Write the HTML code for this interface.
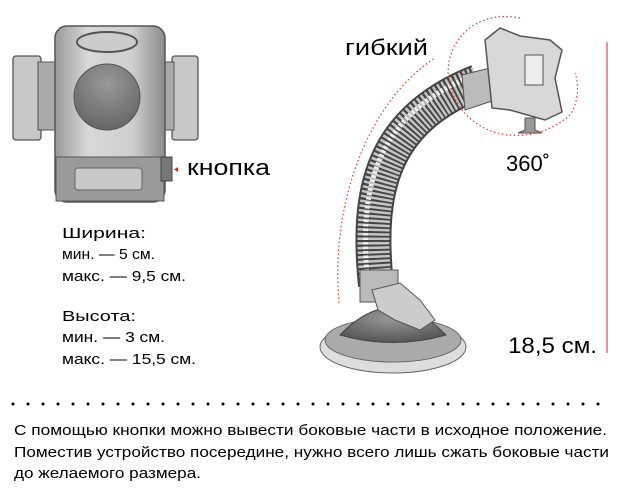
<!DOCTYPE html>
<html><head><meta charset="utf-8"><style>
body{margin:0;background:#fff;width:624px;height:495px;overflow:hidden;font-family:"Liberation Sans",sans-serif}
svg{position:absolute;left:0;top:0}
</style></head><body>
<svg width="624" height="495" viewBox="0 0 624 495" xmlns="http://www.w3.org/2000/svg">
<defs>
<linearGradient id="g1" x1="0" x2="1"><stop offset="0" stop-color="#9a9a9a"/><stop offset=".3" stop-color="#d8d8d8"/><stop offset=".7" stop-color="#cfcfcf"/><stop offset="1" stop-color="#8a8a8a"/></linearGradient>
<radialGradient id="dome" cx=".5" cy=".3" r=".7"><stop offset="0" stop-color="#9a9a9a"/><stop offset="1" stop-color="#555"/></radialGradient>
<radialGradient id="circ" cx=".5" cy=".3" r=".7"><stop offset="0" stop-color="#999"/><stop offset="1" stop-color="#666"/></radialGradient>
</defs>
<!-- left holder -->
<rect x="13" y="56" width="28" height="84" rx="3" fill="#c8c8c8" stroke="#555" stroke-width="1.3"/>
<rect x="38" y="62" width="20" height="68" fill="#aaa" stroke="#555"/>
<rect x="172" y="56" width="26" height="84" rx="3" fill="#c8c8c8" stroke="#555" stroke-width="1.3"/>
<rect x="156" y="62" width="18" height="68" fill="#aaa" stroke="#555"/>
<rect x="55" y="26" width="110" height="176" rx="12" fill="url(#g1)" stroke="#555" stroke-width="1.5"/>
<ellipse cx="107" cy="42" rx="30" ry="10" fill="#ccc" stroke="#555" stroke-width="2"/>
<circle cx="107" cy="97" r="33" fill="url(#circ)" stroke="#555"/>
<rect x="56" y="157" width="108" height="44" fill="#9a9a9a" stroke="#555"/>
<rect x="75" y="168" width="67" height="22" rx="3" fill="#c8c8c8" stroke="#666"/>
<rect x="161" y="157" width="11" height="24" fill="#777" stroke="#444"/>
<polygon points="178,167 174,169.5 178,172" fill="#d22"/>
<!-- gooseneck -->
<path d="M376,285 C366,190 382,120 478,82" fill="none" stroke="#444" stroke-width="36"/>
<path d="M376,285 C366,190 382,120 478,82" fill="none" stroke="#c4c4c4" stroke-width="32" stroke-dasharray="2.5 2"/>
<path d="M368,285 C358,190 374,116 472,76" fill="none" stroke="#eee" stroke-width="5" stroke-dasharray="2.5 2"/>
<rect x="360" y="270" width="38" height="32" fill="#bbb" stroke="#555"/>
<!-- head -->
<path d="M462,75 L490,68 L495,100 L465,110 Z" fill="#bbb" stroke="#555"/>
<path d="M485,40 L500,28 L520,36 L550,40 L562,50 L555,78 L562,112 L545,120 L510,110 L492,108 Z" fill="#d8d8d8" stroke="#555" stroke-width="1.5"/>
<rect x="525" y="55" width="18" height="30" fill="#eee" stroke="#555"/>
<path d="M525,118 L535,118 L535,130 L542,133 L518,133 L525,130Z" fill="#999" stroke="#555"/>
<!-- base -->
<ellipse cx="393" cy="347" rx="73" ry="26" fill="#ddd" stroke="#666"/>
<ellipse cx="393" cy="340" rx="68" ry="22" fill="#aaa" stroke="#666"/>
<path d="M340,335 Q393,280 446,335 Q393,350 340,335Z" fill="url(#dome)" stroke="#444"/>
<path d="M372,290 L400,283 L420,300 L435,320 L420,330 L395,320 L378,310Z" fill="#ccc" stroke="#555"/>
<!-- red dotted arcs -->
<g fill="none" stroke="#e33" stroke-width="1.2" stroke-dasharray="1.5 2.5">
<path d="M339,303 C330,200 370,100 435,58"/>
<path d="M520,18 C470,8 440,50 450,85 C465,140 530,150 570,115 C580,100 578,80 575,73"/>
</g>
<line x1="607" y1="42" x2="607" y2="353" stroke="#e55" stroke-width="1.3"/>
<g font-size="22" fill="#000" lengthAdjust="spacingAndGlyphs">
<text x="187" y="175" textLength="83" lengthAdjust="spacingAndGlyphs">кнопка</text>
<text x="345" y="55" textLength="83" lengthAdjust="spacingAndGlyphs">гибкий</text>
<text x="506" y="171">360˚</text>
<text x="508" y="353" textLength="89" lengthAdjust="spacingAndGlyphs">18,5 см.</text>
</g>
<g font-size="15" fill="#000">
<text x="62" y="238" textLength="84" lengthAdjust="spacingAndGlyphs">Ширина:</text>
<text x="62" y="259" textLength="93" lengthAdjust="spacingAndGlyphs">мин. — 5 см.</text>
<text x="62" y="281" textLength="124" lengthAdjust="spacingAndGlyphs">макс. — 9,5 см.</text>
<text x="62" y="321" textLength="74" lengthAdjust="spacingAndGlyphs">Высота:</text>
<text x="62" y="342" textLength="103" lengthAdjust="spacingAndGlyphs">мин. — 3 см.</text>
<text x="62" y="364" textLength="134" lengthAdjust="spacingAndGlyphs">макс. — 15,5 см.</text>
<text x="14" y="435" textLength="593" lengthAdjust="spacingAndGlyphs">С помощью кнопки можно вывести боковые части в исходное положение.</text>
<text x="14" y="457" textLength="595" lengthAdjust="spacingAndGlyphs">Поместив устройство посередине, нужно всего лишь сжать боковые части</text>
<text x="14" y="478" textLength="187" lengthAdjust="spacingAndGlyphs">до желаемого размера.</text>
</g>
<line x1="13" y1="404" x2="612" y2="404" stroke="#000" stroke-width="3" stroke-linecap="round" stroke-dasharray="0 15"/>
</svg>
</body></html>
